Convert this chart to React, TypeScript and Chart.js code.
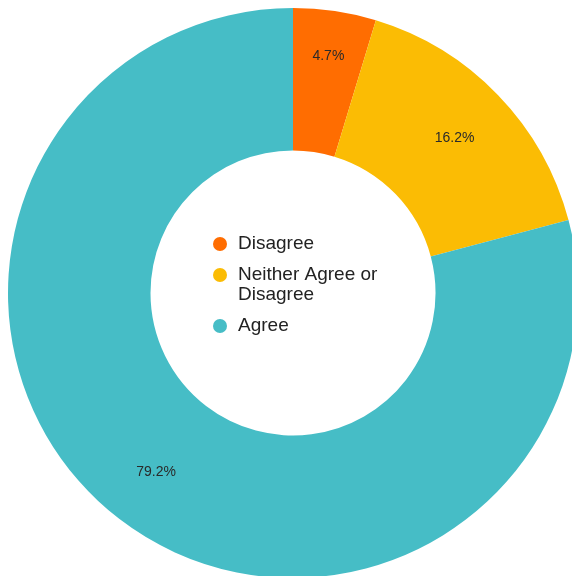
import React, { useEffect, useRef } from "react";
import { Chart, registerables } from "chart.js";

Chart.register(...registerables);

const categories = ["Disagree", "Neither Agree or Disagree", "Agree"];
const legendLines = [["Disagree"], ["Neither Agree or", "Disagree"], ["Agree"]];
const values = [4.7, 16.2, 79.2];
const valueLabels = ["4.7%", "16.2%", "79.2%"];
const colors = ["#FF6D01", "#FBBC04", "#46BDC6"];

const FONT = "Arial, 'Liberation Sans', sans-serif";

const sliceLabels = {
  id: "sliceLabels",
  afterDatasetsDraw(chart: any) {
    const ctx = chart.ctx;
    const meta = chart.getDatasetMeta(0);
    ctx.save();
    ctx.font = `14px ${FONT}`;
    ctx.fillStyle = "#2a2a2a";
    ctx.textAlign = "center";
    ctx.textBaseline = "middle";
    meta.data.forEach((arc: any, i: number) => {
      const p = arc.getProps(["x", "y", "startAngle", "endAngle", "innerRadius", "outerRadius"], true);
      const mid = (p.startAngle + p.endAngle) / 2;
      const f = i === 0 ? 0.69 : 0.575;
      const r = p.innerRadius + (p.outerRadius - p.innerRadius) * f;
      ctx.fillText(valueLabels[i], p.x + Math.cos(mid) * r, p.y + Math.sin(mid) * r + 1);
    });
    ctx.restore();
  },
};

const centerLegend = {
  id: "centerLegend",
  afterDraw(chart: any) {
    const ctx = chart.ctx;
    const meta = chart.getDatasetMeta(0);
    const arc = meta.data[0];
    if (!arc) return;
    const cx = arc.x;
    const cy = arc.y;
    ctx.save();
    ctx.font = `19px ${FONT}`;
    ctx.textBaseline = "middle";
    ctx.textAlign = "left";
    const markerX = cx - 73;
    const textX = cx - 55;
    const lineH = 20;
    const gap = 31;
    let y = cy - 49;
    legendLines.forEach((lines, i) => {
      ctx.fillStyle = colors[i];
      ctx.beginPath();
      ctx.arc(markerX, y, 7, 0, Math.PI * 2);
      ctx.fill();
      ctx.fillStyle = "#222222";
      lines.forEach((t, j) => ctx.fillText(t, textX, y + j * lineH));
      y += (lines.length - 1) * lineH + gap;
    });
    ctx.restore();
  },
};

export default function App() {
  const ref = useRef<HTMLCanvasElement>(null);
  useEffect(() => {
    if (!ref.current) return;
    const chart = new Chart(ref.current, {
      type: "doughnut",
      data: {
        labels: categories,
        datasets: [
          {
            data: values,
            backgroundColor: colors,
            borderWidth: 0,
          },
        ],
      },
      options: {
        responsive: false,
        animation: false,
        cutout: "50%",
        layout: { padding: 0 },
        plugins: {
          legend: { display: false },
          tooltip: { enabled: false },
        },
      },
      plugins: [sliceLabels, centerLegend],
    });
    return () => chart.destroy();
  }, []);
  return (
    <div style={{ position: "fixed", left: 8, top: 8, width: 570, height: 570 }}>
      <canvas ref={ref} width={570} height={570} style={{ width: 570, height: 570, display: "block" }} />
    </div>
  );
}
